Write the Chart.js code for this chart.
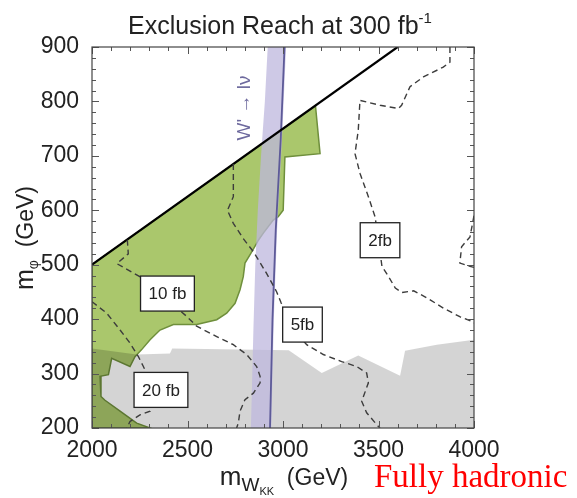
<!DOCTYPE html>
<html>
<head>
<meta charset="utf-8">
<script src="https://cdn.jsdelivr.net/npm/chart.js@4/dist/chart.umd.min.js"></script>
<style>
  html, body { margin: 0; padding: 0; background: #fff; }
  #wrap { width: 577px; height: 498px; position: relative; }
</style>
</head>
<body>
<div id="wrap"><canvas id="c" width="577" height="498"></canvas></div>
<script>
// --- axis ticks ---
const xTicks = [2000, 2500, 3000, 3500, 4000];
const yTicks = [200, 300, 400, 500, 600, 700, 800, 900];

// --- kinematic boundary (black line) ---
const edgeX = [2000, 3600];
const edgeY = [500, 900];

// --- green excluded region ---
const greenX = [2000, 2000, 3170, 3194, 3010, 3001, 2975, 2949, 2897, 2871, 2862, 2827, 2801, 2792, 2775, 2749, 2705, 2653, 2548, 2426, 2356, 2304, 2260, 2225, 2199, 2103, 2086, 2042, 2047, 2068, 2147, 2234, 2304, 2000];
const greenY = [200, 500, 792, 704, 698, 600, 588, 582, 558, 545, 539, 518, 503, 478, 454, 429, 411, 399, 390, 390, 380, 362, 344, 331, 313, 328, 298, 295, 258, 251, 231, 209, 200, 200];

// --- grey region ---
const greyX = [4000, 2000, 2000, 2234, 2408, 2420, 2775, 3030, 3203, 3394, 3613, 3639, 3805, 4000, 4000];
const greyY = [200, 200, 346, 335, 337, 346, 344, 343, 301, 333, 296, 342, 353, 362, 200];

// --- W' -> l nu band ---
const bandLeftX = [2832, 2845, 2855, 2868, 2885, 2905, 2920];
const bandLeftY = [200, 380, 500, 600, 700, 800, 900];
const bandLineX = [2932, 2945, 2962, 2988, 3008];
const bandLineY = [200, 400, 564, 730, 900];
const bandRightX = [3016, 2995, 2969, 2952, 2939];
const bandRightY = [900, 730, 564, 400, 200];

// --- cross-section contours (dashed) ---
const c20X = [2000, 2077, 2147, 2199, 2243, 2269, 2300, 2320, 2304, 2251, 2199, 2182];
const c20Y = [432, 411, 380, 356, 331, 313, 290, 255, 231, 224, 212, 200];
const c10X = [2185, 2190, 2130, 2250, 2380, 2496, 2548, 2653, 2740, 2810, 2862, 2880, 2880, 2845, 2801, 2775, 2766, 2757];
const c10Y = [546, 520, 502, 478, 440, 405, 387, 368, 353, 335, 313, 295, 283, 264, 252, 231, 209, 200];
const c5X = [2740, 2740, 2709, 2740, 2792, 2845, 2914, 2967, 2990, 3060, 3124, 3211, 3307, 3386, 3438, 3447, 3412, 3438, 3491, 3508];
const c5Y = [685, 625, 600, 576, 548, 524, 484, 450, 430, 380, 353, 335, 322, 313, 301, 283, 249, 228, 206, 200];
const c2X = [3874, 3874, 3839, 3735, 3665, 3621, 3604, 3508, 3403, 3394, 3377, 3403, 3447, 3482, 3500, 3518, 3553, 3588, 3623, 3684, 3754, 3841, 3928, 3989, 4000];
const c2Y = [900, 872, 863, 845, 827, 793, 787, 793, 802, 747, 704, 668, 625, 588, 545, 497, 478, 457, 449, 452, 439, 420, 404, 396, 393];
const c2bX = [4000, 3979, 3935, 3926, 3979, 4000];
const c2bY = [590, 551, 533, 503, 497, 495];

// --- contour labels ---
const labelText = ["10 fb", "20 fb", "5fb", "2fb"];
const labelX = [2395, 2361, 3102, 3508];
const labelY = [447, 270, 390, 545];

function pts(xs, ys) {
  return xs.map((x, i) => ({ x: x, y: ys[i] }));
}

function dashed(xs, ys) {
  return {
    data: pts(xs, ys),
    showLine: true, pointRadius: 0, fill: false,
    borderColor: "#3c3c3c", borderWidth: 1.4, borderDash: [6, 4],
    order: 2
  };
}

// text with sub/superscripts, parts: [text, size, dy]
function richText(ctx, parts, x, y, align, family) {
  let w = 0;
  parts.forEach(p => { ctx.font = p[1] + "px " + family; w += ctx.measureText(p[0]).width; });
  let cx = align === "center" ? x - w / 2 : x;
  ctx.textAlign = "left";
  ctx.textBaseline = "alphabetic";
  parts.forEach(p => {
    ctx.font = p[1] + "px " + family;
    ctx.fillText(p[0], cx, y + (p[2] || 0));
    cx += ctx.measureText(p[0]).width;
  });
}

const decor = {
  id: "decor",
  afterDatasetsDraw(chart) {
    const ctx = chart.ctx;
    const xs = chart.scales.x, ys = chart.scales.y;
    const a = chart.chartArea;
    ctx.save();

    // W' -> l nu label
    ctx.save();
    ctx.translate(xs.getPixelForValue(2801), ys.getPixelForValue(788));
    ctx.rotate(-Math.PI / 2);
    ctx.fillStyle = "#6e6a9e";
    ctx.font = '19px "Liberation Sans"';
    ctx.textAlign = "center";
    ctx.textBaseline = "middle";
    ctx.fillText("W' \u2192 l\u03bd", 0, 0);
    ctx.restore();

    // contour label boxes
    ctx.font = '17px "Liberation Sans"';
    labelText.forEach((t, i) => {
      const px = xs.getPixelForValue(labelX[i]);
      const py = ys.getPixelForValue(labelY[i]);
      const w = ctx.measureText(t).width + 16;
      const h = 35;
      ctx.fillStyle = "#fff";
      ctx.fillRect(px - w / 2, py - h / 2, w, h);
      ctx.strokeStyle = "#222";
      ctx.lineWidth = 1.3;
      ctx.strokeRect(px - w / 2, py - h / 2, w, h);
      ctx.fillStyle = "#222";
      ctx.textAlign = "center";
      ctx.textBaseline = "middle";
      ctx.fillText(t, px, py + 1);
    });

    // inner tick marks
    ctx.strokeStyle = "#555";
    ctx.lineWidth = 1;
    ctx.beginPath();
    for (let v = 2000; v <= 4000; v += 100) {
      const px = Math.round(xs.getPixelForValue(v)) + 0.5;
      const len = v % 500 === 0 ? 7 : 4;
      ctx.moveTo(px, a.bottom); ctx.lineTo(px, a.bottom - len);
      ctx.moveTo(px, a.top); ctx.lineTo(px, a.top + len);
    }
    for (let v = 200; v <= 900; v += 20) {
      const py = Math.round(ys.getPixelForValue(v)) + 0.5;
      const len = v % 100 === 0 ? 7 : 4;
      ctx.moveTo(a.left, py); ctx.lineTo(a.left + len, py);
      ctx.moveTo(a.right, py); ctx.lineTo(a.right - len, py);
    }
    ctx.stroke();

    // frame
    ctx.strokeStyle = "#444";
    ctx.lineWidth = 1.2;
    ctx.strokeRect(a.left, a.top, a.right - a.left, a.bottom - a.top);
    ctx.restore();
  },
  afterDraw(chart) {
    const ctx = chart.ctx;
    ctx.save();
    ctx.fillStyle = "#222";
    const fam = '"Liberation Sans"';
    // title
    richText(ctx, [["Exclusion Reach at 300 fb", 25, 0], ["-1", 15, -11]], 280, 34, "center", fam);
    // x axis title
    richText(ctx, [["m", 26, 0], ["W", 19, 6], ["KK", 11, 10], ["  (GeV)", 23, 0]], 284, 485, "center", fam);
    // y axis title
    ctx.save();
    ctx.translate(33, 238);
    ctx.rotate(-Math.PI / 2);
    richText(ctx, [["m", 25, 0], ["\u03c6", 14, 5], ["  (GeV)", 23, 0]], 0, 0, "center", fam);
    ctx.restore();
    // note
    ctx.fillStyle = "#ff0000";
    ctx.font = '33px "Liberation Serif"';
    ctx.textAlign = "left";
    ctx.textBaseline = "alphabetic";
    ctx.fillText("Fully hadronic", 374, 487);
    ctx.restore();
  }
};

const chart = new Chart(document.getElementById("c"), {
  type: "scatter",
  data: {
    datasets: [
      {
        data: pts(greenX, greenY), showLine: true, pointRadius: 0,
        fill: "shape", backgroundColor: "#aac76c",
        borderColor: "#6f8f3c", borderWidth: 1.5, order: 7
      },
      {
        data: pts(greyX, greyY), showLine: true, pointRadius: 0,
        fill: "shape", backgroundColor: "rgba(0,0,0,0.17)",
        borderWidth: 0, order: 6
      },
      {
        data: pts(bandLeftX.concat(bandRightX), bandLeftY.concat(bandRightY)),
        showLine: true, pointRadius: 0,
        fill: "shape", backgroundColor: "rgba(190,183,222,0.75)",
        borderWidth: 0, order: 5
      },
      {
        data: pts(bandLineX, bandLineY), showLine: true, pointRadius: 0, fill: false,
        borderColor: "#5d5a98", borderWidth: 1.8, order: 4
      },
      {
        data: pts(edgeX, edgeY), showLine: true, pointRadius: 0, fill: false,
        borderColor: "#000", borderWidth: 2.2, order: 3
      },
      dashed(c20X, c20Y),
      dashed(c10X, c10Y),
      dashed(c5X, c5Y),
      dashed(c2X, c2Y),
      dashed(c2bX, c2bY)
    ]
  },
  options: {
    responsive: false,
    animation: false,
    layout: { padding: { left: 0, top: 47, right: 103, bottom: 0 } },
    plugins: { legend: { display: false }, tooltip: { enabled: false } },
    scales: {
      x: {
        type: "linear", min: 2000, max: 4000,
        grid: { display: false }, border: { display: false },
        afterBuildTicks: s => { s.ticks = xTicks.map(v => ({ value: v })); },
        afterFit: s => { s.height = 70; },
        ticks: { color: "#222", padding: 1, maxRotation: 0, callback: v => String(v), font: { family: "Liberation Sans", size: 23 } }
      },
      y: {
        type: "linear", min: 200, max: 900,
        grid: { display: false }, border: { display: false },
        afterBuildTicks: s => { s.ticks = yTicks.map(v => ({ value: v })); },
        afterFit: s => { s.width = 92; },
        ticks: { color: "#222", padding: 5, callback: v => String(v), font: { family: "Liberation Sans", size: 23 } }
      }
    }
  },
  plugins: [decor]
});
</script>
</body>
</html>
